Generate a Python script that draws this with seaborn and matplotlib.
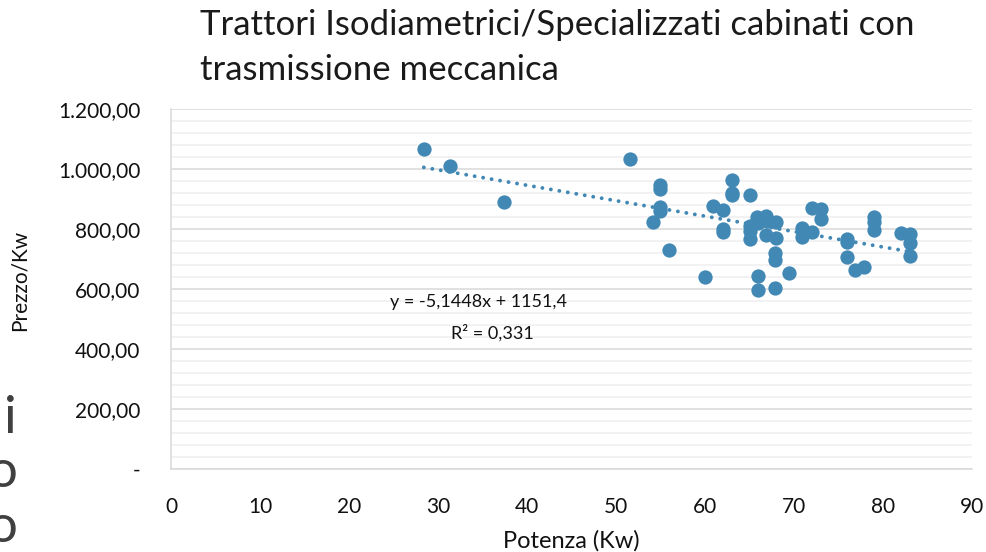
import numpy as np
import pandas as pd
import seaborn as sns
import matplotlib.pyplot as plt
from matplotlib.ticker import MultipleLocator, FuncFormatter

# Potenza (Kw) / Prezzo per Kw
potenza = [28.4, 31.3, 37.4, 51.6, 54.9, 54.9, 54.9, 54.9, 54.1, 56.0,
           60.0, 60.9, 62.0, 62.0, 62.0, 63.0, 63.0, 63.0, 65.0, 65.0,
           65.0, 65.0, 65.8, 66.0, 66.9, 66.9, 67.0, 68.0, 68.0, 67.9,
           67.9, 67.9, 65.9, 65.9, 69.4, 70.9, 70.9, 72.0, 72.0, 73.0,
           73.0, 76.0, 76.0, 76.0, 76.9, 77.9, 79.0, 79.0, 79.0, 82.0,
           83.0, 83.0, 83.0]
prezzo = [1066, 1011, 891, 1032, 947, 932, 874, 861, 824, 730,
          640, 878, 863, 800, 790, 963, 921, 912, 913, 810,
          794, 766, 841, 820, 843, 780, 825, 824, 769, 719,
          697, 604, 643, 597, 654, 802, 772, 791, 869, 867,
          833, 767, 757, 706, 663, 673, 841, 824, 797, 786,
          782, 754, 710]

# trendline as reported on the chart
slope = -5.1448
intercept = 1151.4
r2 = 0.331

title_lines = ["Trattori Isodiametrici/Specializzati cabinati con",
               "trasmissione meccanica"]
x_label = "Potenza (Kw)"
y_label = "Prezzo/Kw"
x_ticks = list(range(0, 91, 10))
y_ticks = list(range(0, 1201, 200))

df = pd.DataFrame({"potenza": potenza, "prezzo": prezzo})

sns.set_theme(style="white")
plt.rcParams["font.family"] = ["Lato", "DejaVu Sans"]

blue = "#4288b5"
grid_major = "#d9d9d9"
grid_minor = "#efefef"
txt = "#111111"

fig = plt.figure(figsize=(9.87, 5.52), dpi=100)
ax = fig.add_axes([0.1733, 0.1504, 0.8116, 0.6522])

sns.scatterplot(data=df, x="potenza", y="prezzo", ax=ax, color=blue,
                s=106, linewidth=0, zorder=3)

xs = np.array([df["potenza"].min(), df["potenza"].max()])
ax.plot(xs, slope * xs + intercept, color=blue, lw=2.8,
        linestyle=(0, (0.01, 2.2)), dash_capstyle="round", zorder=2)


def it_fmt(v, pos):
    if v == 0:
        return "-"
    s = f"{v:,.2f}"
    return s.replace(",", "X").replace(".", ",").replace("X", ".")


ax.set_xlim(0, 90)
ax.set_ylim(0, 1200)
ax.set_xticks(x_ticks)
ax.set_yticks(y_ticks)
ax.yaxis.set_major_formatter(FuncFormatter(it_fmt))
ax.yaxis.set_minor_locator(MultipleLocator(40))
ax.grid(False)
ax.yaxis.grid(True, which="major", color=grid_major, lw=1.1)
ax.yaxis.grid(True, which="minor", color=grid_minor, lw=1.1)
ax.set_axisbelow(True)

for side in ["top", "right"]:
    ax.spines[side].set_visible(False)
for side in ["left", "bottom"]:
    ax.spines[side].set_color(grid_major)
    ax.spines[side].set_linewidth(1.1)

ax.tick_params(axis="both", which="major", direction="out", length=6,
               width=1.1, color=grid_major, labelsize=15, labelcolor=txt)
ax.tick_params(axis="x", which="major", pad=14)
ax.tick_params(axis="y", which="major", pad=16)
ax.tick_params(axis="y", which="minor", length=0)

ax.set_xlabel(x_label, fontsize=17, color=txt)
ax.set_ylabel(y_label, fontsize=15, color=txt)
ax.xaxis.set_label_coords(0.5, -0.17)
ax.yaxis.set_label_coords(-0.176, 0.525)

fig.text(0.2026, 1 - 35 / 552, title_lines[0], fontsize=25, color="#1a1a1a",
         ha="left", va="baseline")
fig.text(0.2026, 1 - 80 / 552, title_lines[1], fontsize=25, color="#1a1a1a",
         ha="left", va="baseline")

ax.text(34.5, 557, f"y = {slope:.4f}x + {intercept:.1f}".replace(".", ","),
        fontsize=13, ha="center", va="center", color=txt)
ax.text(36.1, 453, f"R² = {r2:.3f}".replace(".", ","),
        fontsize=13, ha="center", va="center", color=txt)

# bits of slide text cut by the left edge
fig.text(0.004, 0.215, "i", fontsize=38, color="#404040", ha="left", va="baseline")
fig.text(-0.012, 0.118, "o", fontsize=38, color="#404040", ha="left", va="baseline")
fig.text(-0.012, 0.018, "o", fontsize=38, color="#404040", ha="left", va="baseline")

fig.savefig("out.png", dpi=100)
